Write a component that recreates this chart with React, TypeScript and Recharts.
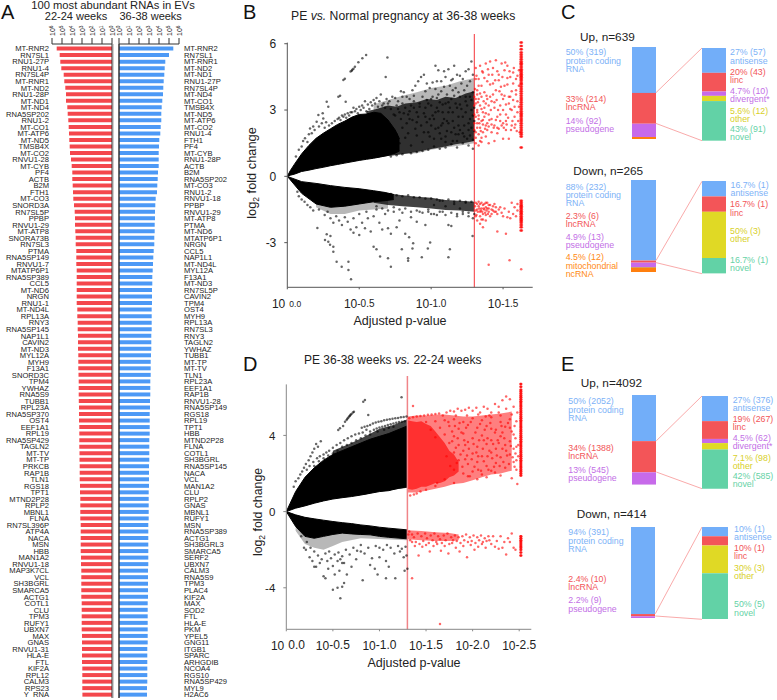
import React from 'react';
import { BarChart, Bar, XAxis, YAxis, ReferenceLine, ComposedChart, Area, Scatter } from 'recharts';

const FONT = '"Liberation Sans", Arial, sans-serif';

// ---------- Panel A ----------
const earlyGenes = ['MT-RNR2','RN7SL1','RNU1-27P','RNU1-4','RN7SL4P','MT-RNR1','MT-ND2','RNU1-28P','MT-ND1','MT-ND4','RNA5SP202','RNU1-2','MT-CO1','MT-ATP6','MT-ND5','TMSB4X','MT-CO2','RNVU1-28','MT-CYB','PF4','ACTB','B2M','FTH1','MT-CO3','SNORD3A','RN7SL5P','PPBP','RNVU1-29','MT-ATP8','SNORA73B','RN7SL3','PTMA','RNA5SP149','RNVU1-7','MTATP6P1','RNA5SP389','CCL5','MT-ND6','NRGN','RNU1-1','MT-ND4L','RPL13A','RNY3','RNA5SP145','NAP1L1','CAVIN2','MT-ND3','MYL12A','MYH9','F13A1','SNORD3C','TPM4','YWHAZ','RNA5S9','TUBB1','RPL23A','RNA5SP370','OST4','EEF1A1','RPL19','RNA5SP429','TAGLN2','MT-TV','MT-TP','PRKCB','RAP1B','TLN1','RGS18','TPT1','MTND2P28','RPLP2','MBNL1','FLNA','RN7SL396P','ATP4A','NACA','MSN','HBB','MAN1A2','RNVU1-18','MAP3K7CL','VCL','SH3BGRL','SMARCA5','ACTG1','COTL1','CLU','TPM3','RUFY1','UBXN7','MAX','GNAS','RNVU1-31','HLA-E','FTL','KIF2A','RPL12','CALM3','RPS23','Y_RNA'];
const earlyLog10 = [5.53,5.23,5.17,5.07,4.83,4.77,4.67,4.6,4.6,4.47,4.43,4.37,4.33,4.3,4.27,4.23,4.2,4.1,4.03,3.97,3.97,3.93,3.9,3.87,3.8,3.73,3.7,3.7,3.67,3.63,3.63,3.57,3.57,3.57,3.53,3.53,3.53,3.53,3.53,3.53,3.47,3.47,3.43,3.43,3.4,3.4,3.4,3.37,3.37,3.37,3.35,3.33,3.33,3.33,3.32,3.3,3.3,3.3,3.27,3.27,3.27,3.27,3.25,3.25,3.23,3.23,3.23,3.2,3.2,3.17,3.17,3.17,3.17,3.13,3.13,3.13,3.13,3.13,3.1,3.1,3.07,3.07,3.07,3.07,3.07,3.03,3.03,3.03,3.03,3.03,3,3,3,3,3,2.97,2.97,2.97,2.97,2.96];
const lateGenes = ['MT-RNR2','RN7SL1','MT-RNR1','MT-ND2','MT-ND1','RNU1-27P','RN7SL4P','MT-ND4','MT-CO1','TMSB4X','MT-ND5','MT-ATP6','MT-CO2','RNU1-4','FTH1','PF4','MT-CYB','RNU1-28P','ACTB','B2M','RNA5SP202','MT-CO3','RNU1-2','RNVU1-18','PPBP','RNVU1-29','MT-ATP8','PTMA','MT-ND6','MTATP6P1','NRGN','CCL5','NAP1L1','MT-ND4L','MYL12A','F13A1','MT-ND3','RN7SL5P','CAVIN2','TPM4','OST4','MYH9','RPL13A','RN7SL3','RNY3','TAGLN2','YWHAZ','TUBB1','MT-TP','MT-TV','TLN1','RPL23A','EEF1A1','RAP1B','RNVU1-28','RNA5SP149','RGS18','RPL19','TPT1','HBB','MTND2P28','FLNA','COTL1','SH3BGRL','RNA5SP145','NACA','VCL','MAN1A2','CLU','RPLP2','GNAS','MBNL1','RUFY1','MSN','RNA5SP389','ACTG1','SH3BGRL3','SMARCA5','SERF2','UBXN7','CALM3','RNA5S9','TPM3','PLAC4','KIF2A','MAX','SOD2','FTL','HLA-E','PKM','YPEL5','GNG11','ITGB1','SPARC','ARHGDIB','NCOA4','RGS10','RNA5SP429','MYL9','H2AC6'];
const lateLog10 = [5.43,5,4.63,4.57,4.53,4.47,4.43,4.4,4.33,4.27,4.23,4.23,4.17,4.13,4.03,4,3.97,3.97,3.97,3.9,3.87,3.83,3.8,3.67,3.63,3.6,3.6,3.57,3.57,3.53,3.53,3.47,3.43,3.4,3.37,3.33,3.33,3.3,3.3,3.3,3.27,3.27,3.27,3.27,3.23,3.23,3.23,3.2,3.17,3.17,3.17,3.13,3.13,3.13,3.1,3.1,3.07,3.07,3.07,3.07,3.03,3.03,3.03,3.03,3,3,3,3,2.97,2.97,2.97,2.97,2.97,2.93,2.93,2.93,2.93,2.93,2.93,2.93,2.9,2.9,2.9,2.9,2.9,2.87,2.87,2.87,2.87,2.87,2.87,2.87,2.83,2.83,2.83,2.83,2.83,2.83,2.8,2.8];
const abundanceTicks = [0,1,2,3,4,5,6];

// ---------- Panel B ----------
const bUpperCore = [[0,0,0],[.02,.05,.25],[.05,.1,.55],[.1,.22,1.02],[.15,.28,1.4],[.2,.35,1.72],[.25,.41,1.95],[.3,.48,2.15],[.35,.54,2.35],[.4,.6,2.5],[.45,.66,2.68],[.5,.72,2.8],[.55,.77,2.82],[.6,.82,2.9],[.65,.88,2.85],[.7,.95,2.55],[.75,1.05,2.1],[.78,1.15,1.7]];
const bUpperDark = [[.55,.78,2.95],[.62,.85,3.05],[.7,.92,3.2],[.76,.97,3.15],[.82,1.02,3.3],[.9,1.1,3.35],[.97,1.2,3.5],[1.04,1.28,3.45],[1.1,1.35,3.6],[1.17,1.45,3.55],[1.24,1.52,3.75],[1.3,1.6,3.85]];
const bUpperHaze = [[.6,.85,3.25],[.7,.92,3.45],[.8,1,3.65],[.9,1.05,3.8],[1,1.2,4],[1.1,1.3,4.1],[1.2,1.4,4.3],[1.3,1.5,4.45]];
const bLowerCore = [[0,0,0],[.02,-.05,-.15],[.1,-.24,-.77],[.2,-.32,-1.25],[.3,-.42,-1.4],[.4,-.5,-1.35],[.5,-.56,-1.25],[.6,-.65,-1.15],[.68,-.73,-1.1],[.74,-.82,-1.05]];
const bLowerDark = [[.6,-.66,-1.2],[.7,-.77,-1.3],[.8,-.85,-1.35],[.9,-.92,-1.4],[1,-.97,-1.45],[1.1,-1.07,-1.52],[1.2,-1.1,-1.55],[1.3,-1.15,-1.6]];
const bLowerHaze = [[.2,-.3,-1.4],[.3,-.4,-1.7],[.4,-.5,-1.7],[.5,-.56,-1.55],[.7,-.75,-1.45]];
const bBlack = [.548,5.49,.522,5.34,.494,5.16,.47,4.96,.46,4.87,.452,4.82,.448,4.78,.44,4.74,.40,4.42,.39,4.36,.367,3.65,.355,3.6,.406,3.38,.274,3.38,.285,3.15,.246,2.85,.216,2.78,.696,5.38,.684,4.49,.123,1.72,.158,2.17,.18,2.25,.204,2.47,.25,2.62,.06,.9,.08,1.2,.1,1.35,.11,1.6,.14,1.55,.15,1.9,.17,1.95,.19,2.1,.22,2.25,.24,2.4,.26,2.2,.27,2.45,.29,2.3,.31,2.4,.33,2.5,.35,2.6,.37,2.55,.39,2.7,.41,2.65,.43,2.75,.45,2.9,.47,2.95,.49,2.85,.51,3,.53,3.1,.55,2.95,.57,3.05,.59,3.2,.61,3.3,.63,3.15,.65,3.7,.67,3.3,.69,3.5,.71,3.4,.73,3.6,.75,3.55,.77,3.4,.79,3.85,.81,3.8,.83,3.6,.85,3.5,.87,3.9,.89,4.1,.91,4.3,.93,4.5,.95,4.6,.97,4.2,.99,4,1.01,4.25,1.03,5,1.05,4.8,1.07,4.3,1.09,4.75,1.12,4.85,1.14,4.35,1.16,5,1.18,4.6,1.2,4.55,1.22,4.4,1.24,4.75,1.26,4.85,1.28,5.2,1.29,4.6,1.27,4.3,1.25,4.1,1.23,3.9,1.21,4.2,1.19,3.8,1.17,4,1.15,3.9,1.13,4.1,1.11,3.7,1.09,4.05,1.07,3.85,1.05,3.7,1.03,3.95,1.01,3.6,.76,3.2,.78,2.9,.8,3.3,.82,3.1,.84,2.8,.86,3.2,.88,3.4,.9,2.9,.92,3.15,.94,3.6,.96,2.7,.98,3.3,1,3.5,1.02,2.6,1.04,3.1,1.06,3.35,1.08,2.4,1.1,3.3,1.12,2.9,1.14,3.5,1.16,2.2,1.18,3.1,1.2,3.6,1.22,2.7,1.24,3.4,1.26,2.1,1.28,3,1.29,3.8,.98,1.2,1.02,1.35,1.06,1.25,1.1,1.3,1.14,1.45,1.18,1.3,1.22,1.5,1.26,1.4,1.29,1.25,.86,1.05,.9,1.1,.94,1.15,.72,.9,.76,.95,.8,1,1.05,2.2,1.12,2.4,1.19,1.9,1.24,2.9,1.28,2.2,1.1,1.8,1.15,1.6,1.2,2.1,1.25,1.7,1,2.3,.95,2,.9,2.45,.85,2.6,.75,2.75,1.08,2.9,1.17,3.3,1.27,3.6,.96,3.85,.88,3.65,.8,3.6,1.15,4.4,1.1,4.5,1.04,4.3,.97,3.45,
.209,-2.34,.274,-2.62,.30,-2.7,.262,-2.88,.285,-2.96,.297,-3.1,.32,-3.41,.343,-3.86,.378,-4.09,.425,-3.86,.425,-4.24,.443,-4.66,.32,-3.18,.6,-3.18,.62,-3.3,.645,-3.63,.7,-3.71,.72,-4.09,.796,-3.3,.84,-3.71,.84,-3.82,.847,-2.76,.87,-3.26,.875,-3.03,.935,-3.66,.977,-3.26,.993,-2.99,1.12,-3.66,1.13,-3.3,1.288,-2.7,.08,-.9,.1,-1.05,.07,-.7,.12,-1.15,.14,-1.3,.16,-1.4,.18,-1.55,.22,-1.5,.26,-1.75,.28,-1.6,.3,-1.9,.32,-2.1,.34,-1.8,.36,-2,.38,-2.2,.4,-1.85,.42,-2.05,.44,-2.4,.46,-2.55,.48,-2.3,.5,-2.65,.52,-2.1,.54,-2.35,.56,-1.9,.58,-2.5,.6,-1.8,.64,-2.1,.68,-1.7,.7,-2.35,.74,-1.6,.72,-2.6,.76,-2.3,.78,-2,.8,-1.65,.82,-2.6,.86,-1.85,.9,-2.05,.92,-1.6,.96,-2.2,1,-1.7,1.04,-1.75,1.08,-1.6,1.12,-2.2,1.14,-2.25,1.18,-1.8,1.22,-1.7,1.26,-1.8,1.29,-1.9,.98,-1.5,1.02,-1.3,1.06,-1.1,1.1,-1.35,1.16,-1.25,1.2,-1.45,1.24,-1.2,.46,-1.9,.5,-1.7,.55,-1.6,.62,-1.5,.66,-2.4];
const bBlackStipple = [.72,3.05,.74,2.8,.77,3.05,.79,2.6,.81,2.85,.83,2.4,.85,2.95,.87,2.55,.89,2.15,.91,2.7,.93,2.3,.95,2.85,.97,2.45,.99,1.8,1.01,2.75,1.03,2.15,1.05,2.95,1.07,1.7,1.09,2.6,1.11,2.05,1.13,3.1,1.15,2.5,1.17,1.9,1.19,2.7,1.21,3.05,1.23,2.3,1.25,3.2,1.27,1.85,1.29,2.75,.74,1.3,.78,1.5,.82,1.75,.86,1.4,.9,1.85,.94,1.55,.98,2,1.02,1.7,1.06,1.95,1.1,1.55,1.14,2,1.18,1.6,1.22,1.95,1.26,2.4,1.3,2.05,.76,1.9,.8,2.2,.84,1.95,.88,3.1,.92,3.3,.96,3.1,1,3.2,1.04,3.55,1.08,3.25,1.12,3.35,1.16,3.65,1.2,3.25,1.24,3.6,1.28,3.45,1.3,3.1,1.3,2.5,1.29,1.65,1.27,2.6,1.23,1.8,1.19,2.3,1.15,2.9,1.11,2.5,1.07,2.3,1.03,2.9,.99,2.6,.7,3.3,.68,3.1,.66,3.2,.64,3.4,.62,3.55,.6,3.45,.58,3.35,.56,3.25,.54,3.4,.52,3.2,.5,3.15,.48,3.05,.46,3.1,.44,2.9,.42,2.85,.4,2.8,.38,2.75,.36,2.65,
.62,-1.35,.66,-1.45,.7,-1.55,.74,-1.4,.78,-1.5,.82,-1.45,.86,-1.6,.9,-1.55,.94,-1.65,.98,-1.6,1.02,-1.7,1.06,-1.6,1.1,-1.75,1.14,-1.65,1.18,-1.7,1.22,-1.6,1.26,-1.65,1.3,-1.7,.72,-.8,.76,-.85,.8,-.9,.84,-.85,.88,-.95,.92,-.95,.96,-1,1,-1,1.04,-1.05,1.08,-1.1,1.12,-1.05,1.16,-1.15,1.2,-1.1,1.24,-1.15,1.28,-1.15];
const bRed = [1.31,4.9,1.33,4.4,1.32,3.9,1.34,5,1.36,4.7,1.38,5.1,1.4,4.6,1.41,5.2,1.43,4.9,1.45,5.25,1.47,4.6,1.49,5.1,1.51,4.8,1.53,5,1.55,4.5,1.57,4.7,1.59,4.4,1.31,4.4,1.33,3.5,1.35,4.1,1.37,3.8,1.39,4.3,1.41,3.6,1.43,4.2,1.45,3.9,1.47,4.35,1.49,3.7,1.51,4.1,1.53,4.45,1.55,3.6,1.57,4.2,1.59,3.9,1.6,3.4,1.31,3.3,1.32,3,1.34,3.2,1.36,2.9,1.38,3.3,1.4,2.8,1.42,3.4,1.44,3.1,1.46,2.7,1.48,3.2,1.5,3.5,1.52,2.8,1.54,3.3,1.56,3,1.58,2.7,1.6,2.9,1.31,2.7,1.32,2.4,1.33,2.6,1.34,2.2,1.35,2.5,1.36,2.35,1.37,2.7,1.38,2.3,1.39,2.4,1.4,2.25,1.42,2.6,1.44,2.3,1.46,2.2,1.48,2.5,1.5,2.4,1.52,2.1,1.54,1.7,1.56,2.3,1.58,2.2,1.31,2,1.32,2.2,1.33,1.9,1.34,1.6,1.35,1.75,1.36,2,1.38,1.8,1.4,1.5,1.42,2,1.44,1.6,1.46,1.95,1.5,1.7,1.52,2.5,1.31,1.5,1.33,1.4,1.35,1.55,1.32,3.7,1.35,3.6,1.37,3.1,1.39,3.5,1.31,3.5,1.33,4.1,1.31,1.75,1.3,2.4,1.3,2.1,1.3,2.8,1.3,3.2,1.3,3.6,
1.31,-1.2,1.32,-1.5,1.33,-1.35,1.34,-1.6,1.34,-1.25,1.35,-1.45,1.36,-1.7,1.36,-1.3,1.37,-1.5,1.38,-1.75,1.38,-1.2,1.39,-1.45,1.4,-1.6,1.4,-1.3,1.41,-1.8,1.42,-1.5,1.43,-1.35,1.44,-1.6,1.45,-1.4,1.46,-1.7,1.32,-2,1.34,-2.15,1.36,-2.3,1.38,-2,1.35,-1.95,1.31,-1.8,1.46,-2.5,1.52,-2.6,1.48,-1.4,1.5,-1.8,1.54,-1.6,1.56,-1.2,1.55,-1.9,1.58,-1.4,1.59,-1.8,1.4,-4,1.545,-3.8,1.626,-4.2];
const bRedMore = [1.305,3.95,1.315,4.55,1.32,2.9,1.325,3.35,1.33,2.75,1.335,2.4,1.34,3.75,1.345,2.05,1.35,3.05,1.355,4.75,1.36,2.55,1.365,3.4,1.37,4.45,1.375,2.15,1.38,2.85,1.385,3.65,1.39,2.1,1.395,4.85,1.4,3.2,1.405,2.55,1.41,4.15,1.415,3,1.42,2.35,1.425,4.6,1.43,3.7,1.435,2.2,1.44,3.35,1.445,4.35,1.45,2.55,1.455,3.45,1.46,4.75,1.465,3,1.47,2.15,1.475,3.85,1.48,2.8,1.485,4.05,1.49,2.3,1.495,4.5,1.5,3,1.505,2.2,1.51,3.65,1.515,5.15,1.52,3.25,1.525,2.35,1.53,4.15,1.535,2.65,1.54,3.6,1.545,4.75,1.55,3.05,1.555,2.1,1.56,3.85,1.565,2.5,1.57,3.45,1.575,4.9,1.58,3.15,1.585,2.35,1.59,3.7,1.595,2.05,1.6,4.55,1.605,2.5,1.61,3.15,1.61,4.1,1.61,4.8,1.615,2,
1.305,-1.35,1.31,-1.55,1.315,-1.75,1.32,-1.25,1.325,-1.6,1.33,-1.15,1.335,-1.45,1.34,-1.8,1.345,-1.55,1.35,-1.2,1.355,-1.6,1.36,-1.95,1.365,-1.45,1.37,-1.25,1.375,-1.65,1.38,-1.4,1.385,-1.55,1.39,-1.2,1.395,-1.7,1.4,-1.45,1.41,-1.3,1.42,-1.7,1.43,-1.55,1.44,-1.25,1.45,-1.6,1.47,-1.5,1.49,-1.65,1.51,-1.45,1.53,-1.85,1.57,-1.7,1.6,-1.55,1.6,-1.25];
const bRedColumnX = [1.621,1.626,1.631];
const bRedColumnY = [6.05,5.9,5.75,5.6,5.5,5.4,5.3,5.2,5.12,5.05,4.95,4.85,4.78,4.7,4.62,4.55,4.48,4.4,4.32,4.22,4.15,4.05,3.95,3.85,3.75,3.65,3.55,3.45,3.35,3.25,3.15,3.05,2.95,2.85,2.78,2.7,2.6,2.5,2.4,2.3,2.2,2.1,2,1.9,1.8,1.3,-1.1,-1.2,-1.28,-1.35,-1.42,-1.5,-1.58,-1.65,-1.72,-1.8,-1.88,-1.95,-2.02,-2.1,-2.2,-2.3,-2.45];

// ---------- Panel D ----------
const dUpperCore = [[0,0,0],[.1,.18,1.05],[.2,.3,1.8],[.3,.44,2.3],[.4,.56,2.7],[.5,.66,3],[.6,.73,3.2],[.7,.79,3.4],[.8,.87,3.6],[.9,.96,3.8],[1,1.05,3.95],[1.1,1.1,4.1],[1.2,1.22,4.3],[1.3,1.3,4.5]];
const dUpperHaze = [[.5,.68,3.2],[.7,.8,3.6],[.85,.9,3.95],[1,1.05,4.35],[1.15,1.15,4.55],[1.3,1.25,4.85]];
const dLowerCore = [[0,0,0],[.1,-.17,-.78],[.2,-.3,-1.3],[.3,-.38,-1.4],[.4,-.45,-1.3],[.5,-.52,-1.2],[.6,-.58,-1.13],[.7,-.63,-1.17],[.8,-.7,-1.2],[.9,-.75,-1.22],[1,-.82,-1.3],[1.1,-.87,-1.35],[1.3,-.96,-1.43]];
const dLowerHaze = [[.1,-.3,-1],[.2,-.5,-1.7],[.3,-.6,-1.9],[.4,-.7,-2],[.5,-.7,-1.8],[.6,-.8,-1.6],[.8,-.9,-1.4],[1.3,-1,-1.5]];
const dRedCore = [[1.3,1.2,4.8],[1.35,1.15,4.75],[1.4,1.2,4.7],[1.45,1.3,4.75],[1.5,1.3,4.6],[1.55,1.4,4.5],[1.6,1.5,4.2],[1.65,1.5,3.9],[1.7,1.6,3.6],[1.75,1.8,3.2],[1.8,1.9,3],[1.85,2.1,2.6]];
const dRedHaze = [[1.3,1,5],[1.4,1,5.05],[1.5,1.1,5.05],[1.6,1.2,5.1],[1.7,1.3,5.1],[1.8,1.45,5.05],[1.9,1.5,5],[2,1.65,5],[2.1,1.8,5.05],[2.2,1.95,5.1],[2.3,2,5.15],[2.42,2.15,5.25]];
const dRedLowerHaze = [[1.3,-.98,-1.45],[1.45,-1.02,-1.5],[1.6,-1.08,-1.55],[1.75,-1.12,-1.55],[1.85,-1.2,-1.5]];
const dBlack = [.844,5.86,.826,5.77,1.237,6,.647,4.81,.665,4.93,.683,5.03,.70,5.12,.726,5.24,.63,4.72,.655,4.87,.675,5,.69,5.08,.715,5.2,.576,4.37,.558,4.28,.61,4.49,.88,5.07,.81,4.4,.84,4.45,.87,4.5,.9,4.55,.93,4.62,.96,4.68,.99,4.72,1.02,4.75,1.05,4.8,1.08,4.82,1.11,4.85,1.14,4.88,1.17,4.9,1.2,4.92,1.23,4.95,1.26,4.97,1.29,4.99,.9,4.2,.94,4.3,.97,4.36,1,4.42,1.03,4.46,1.06,4.5,1.09,4.55,1.12,4.58,1.15,4.62,1.18,4.66,1.21,4.7,1.24,4.72,1.27,4.75,.08,1.3,.1,1.6,.13,1.75,.15,1.95,.17,2.1,.19,2.3,.21,2.5,.24,2.7,.26,2.9,.28,3.1,.3,3.3,.32,3.55,.34,3.4,.37,3.7,.22,2.2,.25,2.4,.29,2.6,.33,2.8,.36,2.9,.4,3,.43,3.1,.46,3.2,.5,3.35,.54,3.5,.58,3.6,.62,3.75,.66,3.85,.7,3.95,.74,4.05,.78,4.1,.82,4.15,.86,4.3,.3,2.4,.35,2.65,.4,2.8,.45,2.95,.5,3.05,.55,3.2,.6,3.4,.65,3.5,.7,3.6,.75,3.75,.8,3.85,.85,4,.9,4.05,.98,4.2,1.05,4.3,1.1,4.4,1.15,4.45,
.16,-1.3,.19,-1.9,.21,-2,.25,-2.4,.28,-2.6,.3,-2.9,.32,-2.9,.36,-2.7,.4,-3.4,.42,-3.5,.44,-2.6,.5,-4.1,.55,-4,.58,-4.55,.6,-3.95,.62,-3.75,.5,-2.85,.52,-3.3,.57,-3.1,.6,-2.7,.65,-3.3,.7,-2.9,.75,-2.5,.8,-2.1,.82,-3.6,.9,-2.8,.95,-3,.98,-3.3,1,-2.4,1.07,-3.5,1.07,-2.6,1.1,-2.9,1.17,-3.5,1.22,-2.1,1.26,-2.4,1.27,-3.1,1.29,-2.3,1.3,-3,.22,-1.6,.26,-1.9,.3,-2.1,.34,-2.3,.38,-2.5,.42,-2.2,.46,-2.1,.48,-2.45,.52,-2.25,.56,-2.15,.6,-2.35,.64,-2,.68,-2.25,.72,-1.9,.76,-2.05,.8,-1.75,.84,-2.2,.88,-1.9,.92,-2.45,.96,-1.8,1,-1.9,1.04,-2,1.08,-1.75,1.12,-1.9,1.16,-2.2,1.2,-1.8,1.24,-1.95,1.28,-1.85,.55,-2.6,.58,-2.5,.62,-2.7,.45,-3];
const dRed = [1.36,5.55,1.65,-5.9,1.32,4.9,1.36,4.95,1.4,5,1.44,5.02,1.48,5.05,1.52,5.08,1.56,5.1,1.6,5.12,1.64,5.15,1.68,5.05,1.72,5.2,1.76,5.3,1.8,5.25,1.84,5.4,1.88,5.3,1.92,5.35,1.96,5.45,2,5.3,2.04,5.45,2.08,5.2,2.12,5.5,2.16,5.4,2.2,5.2,2.24,5.65,2.28,5.5,2.32,5.85,2.36,6.05,2.4,5.9,2.44,5.5,2.28,5.2,2.36,5.4,2.42,5.1,1.5,4.7,1.6,4.75,1.7,4.8,1.8,4.85,1.9,4.7,2,4.9,2.1,4.8,2.2,4.95,2.3,4.7,2.4,4.85,2.45,4.5,1.55,4.3,1.65,4.4,1.75,4.5,1.85,4.35,1.95,4.55,2.05,4.4,2.15,4.5,2.25,4.3,2.35,4.45,2.42,4.2,1.6,3.9,1.7,4.05,1.8,3.95,1.9,4.1,2,3.85,2.1,4,2.2,3.75,2.3,3.95,2.4,3.7,2.46,3.85,1.75,3.6,1.85,3.5,1.95,3.65,2.05,3.4,2.15,3.55,2.25,3.3,2.35,3.5,2.44,3.3,1.8,3.1,1.9,3.2,2,3.05,2.1,2.9,2.2,3.1,2.3,2.85,2.4,3,2.47,2.7,1.85,2.7,1.95,2.5,2.05,2.6,2.15,2.4,2.25,2.55,2.35,2.3,2.45,2.35,1.8,2.2,1.9,2,2,2.1,2.1,1.95,2.2,2.15,2.3,1.9,2.42,1.75,2.48,1.45,1.7,1.7,1.8,1.5,1.6,1.35,1.5,1.15,1.4,.95,1.33,.85,1.37,.9,1.44,1.05,1.62,1.5,1.95,1.85,2.05,1.7,2.15,1.8,
1.32,-1.05,1.35,-1.6,1.38,-1.8,1.42,-2.3,1.46,-1.85,1.5,-1.75,1.54,-2.1,1.58,-1.8,1.62,-1.7,1.66,-2.05,1.7,-1.8,1.74,-2.2,1.78,-1.65,1.82,-1.9,1.86,-2.1,1.9,-1.8,1.94,-2.4,1.98,-1.75,2.02,-2,2.06,-1.85,2.1,-1.7,2.14,-1.9,2.18,-1.5,2.22,-1.3,2.26,-1.55,2.3,-1.3,2.34,-1.6,2.38,-1.4,2.42,-1.15,2.36,-2.25,2.44,-1.9,2.28,-1.95,1.35,-3.5];
const dRedMore = [1.72,2.9,1.76,2.4,1.78,4.2,1.82,3.35,1.83,2.55,1.86,4.65,1.87,3,1.89,2.35,1.91,3.75,1.92,2.75,1.93,4.4,1.96,3.3,1.97,1.85,1.98,4.7,2.01,3.55,2.02,2.35,2.03,4.15,2.06,2.9,2.07,3.75,2.08,4.6,2.09,2.15,2.11,3.3,2.12,2.65,2.13,4.3,2.14,5,2.16,3.85,2.17,2.2,2.18,3.2,2.19,4.65,2.21,2.8,2.22,3.55,2.23,2.35,2.24,4.15,2.26,2.95,2.27,3.75,2.29,2.4,2.31,4.5,2.32,3.3,2.33,2.6,2.34,3.85,2.37,2.95,2.38,4.65,2.39,2.5,2.41,3.45,2.43,2.85,2.44,4.05,2.46,3.05,2.47,2.2,2.47,4.75,2.49,3.5,2.49,2.9,1.74,4.7,1.78,3.7,1.81,4.5,1.84,3.85,1.88,4.15,1.92,3.5,1.94,2.95,1.99,2.75,2.04,3.1,2.06,2.2,2.12,3.75,2.16,2.9,2.2,4.35,2.24,2.05,2.28,3.6,2.32,4.15,2.36,3.2,2.4,4.4,2.44,2.6,2.47,3.4,2.48,5.2,2.3,5.05,2.18,5.05,2.06,5.1,1.94,5.05,1.82,5.05,
1.31,-1.2,1.33,-1.5,1.35,-1.2,1.37,-1.35,1.39,-1.6,1.41,-1.15,1.43,-1.7,1.45,-1.3,1.47,-1.55,1.49,-1.15,1.51,-1.4,1.53,-1.65,1.55,-1.25,1.57,-1.5,1.59,-1.15,1.61,-1.6,1.63,-1.3,1.65,-1.45,1.67,-1.65,1.69,-1.25,1.71,-1.5,1.73,-1.15,1.75,-1.7,1.77,-1.35,1.79,-1.5,1.81,-1.25,1.83,-1.55,1.85,-1.35,1.87,-1.65,1.89,-1.3,1.91,-1.5,1.93,-1.2,1.95,-1.6,1.97,-1.35,1.99,-1.55,2.01,-1.25,2.03,-1.65,2.05,-1.35,2.07,-1.5,2.09,-1.25,2.11,-1.6,2.13,-1.4,2.15,-1.55,2.17,-1.3,2.2,-1.7,2.24,-1.85,2.32,-1.9,2.4,-1.6,2.46,-2];
const dRedColumnX = [2.513,2.518,2.523];
const dRedColumnY = [6.7,6.55,6.4,6.3,6.2,6.1,6,5.9,5.8,5.7,5.6,5.5,5.4,5.3,5.2,5.1,5,4.9,4.8,4.7,4.6,4.5,4.4,4.3,4.2,4.1,4,3.9,3.8,3.7,3.6,3.5,3.4,3.3,3.2,3.1,3,2.9,2.8,2.7,2.6,2.5,2.4,2.3,2.2,2.1,2,1.9,-1.3,-1.4,-1.5,-1.6,-1.7,-1.8,-1.9,-2,-2.15,-2.3];

// ---------- Panels C and E ----------
const BLUE = '#72aef9', RED = '#f35558', PURPLE = '#c76aea', ORANGE = '#ff7f0e', YELLOW = '#e0d925', GREEN = '#62d2a6', OLIVE = '#b9893a', PALE = '#d9a8e8';
const cUpMain = [319,214,92,14];
const cUpMainColors = [BLUE,RED,PURPLE,ORANGE];
const cUpSub = [57,43,10,12,91];
const cUpSubColors = [BLUE,RED,PURPLE,YELLOW,GREEN];
const cDownMain = [232,6,13,2,12];
const cDownMainColors = [BLUE,RED,PURPLE,OLIVE,ORANGE];
const cDownSub = [1,1,3,1];
const cDownSubColors = [BLUE,RED,YELLOW,GREEN];
const eUpMain = [2052,1388,545,20];
const eUpMainColors = [BLUE,RED,PURPLE,PALE];
const eUpSub = [376,267,62,98,585];
const eUpSubColors = [BLUE,RED,PURPLE,YELLOW,GREEN];
const eDownMain = [391,10,9];
const eDownMainColors = [BLUE,RED,PURPLE];
const eDownSub = [1,1,3,5];
const eDownSubColors = [BLUE,RED,YELLOW,GREEN];

const TB = '#7db2f7', TR = '#f25558', TP = '#c36fe6', TO = '#ff8a14', TY = '#d8d02a', TG = '#66d2a6';
type L = [number, number, string, string];
const stackLabels: L[] = [
  [565.7,55,'50% (319)',TB],[565.7,63.5,'protein coding',TB],[565.7,72,'RNA',TB],[565.7,101.7,'33% (214)',TR],[565.7,110,'lncRNA',TR],[565.7,124,'14% (92)',TP],[565.7,132.3,'pseudogene',TP],
  [730,55.3,'27% (57)',TB],[730,63.7,'antisense',TB],[730,74.7,'20% (43)',TR],[730,83,'linc',TR],[730,94.3,'4.7% (10)',TP],[730,102.3,'divergent*',TP],[730,114,'5.6% (12)',TY],[730,121.7,'other',TY],[730,132,'43% (91)',TG],[730,139.7,'novel',TG],
  [565.7,189.7,'88% (232)',TB],[565.7,198,'protein coding',TB],[565.7,206,'RNA',TB],[565.7,218.7,'2.3% (6)',TR],[565.7,227,'lncRNA',TR],[565.7,240.3,'4.9% (13)',TP],[565.7,248.3,'pseudogene',TP],[565.7,260.3,'4.5% (12)',TO],[565.7,268.7,'mitochondrial',TO],[565.7,277,'ncRNA',TO],
  [730.5,187.7,'16.7% (1)',TB],[730.5,196.3,'antisense',TB],[730,207.3,'16.7%  (1)',TR],[730,215.7,'linc',TR],[730,234,'50% (3)',TY],[730,242.3,'other',TY],[730,262.7,'16.7% (1)',TG],[730,271,'novel',TG],
  [568.3,404.3,'50% (2052)',TB],[568.3,412.7,'protein coding',TB],[568.3,421,'RNA',TB],[568.3,450.7,'34% (1388)',TR],[568.3,458.7,'lncRNA',TR],[568.3,472.7,'13% (545)',TP],[568.3,481,'pseudogene',TP],
  [732.7,402.7,'27% (376)',TB],[732.7,410.7,'antisense',TB],[732.7,422,'19% (267)',TR],[732.7,430,'linc',TR],[732.7,440.7,'4.5% (62)',TP],[732.7,449,'divergent*',TP],[732.7,460.7,'7.1% (98)',TY],[732.7,468.7,'other',TY],[732.7,478.7,'42% (585)',TG],[732.7,486.7,'novel',TG],
  [568.3,535.3,'94% (391)',TB],[568.3,543.7,'protein coding',TB],[568.3,551.7,'RNA',TB],[568.3,581.7,'2.4% (10)',TR],[568.3,590,'lncRNA',TR],[568.3,603.3,'2.2% (9)',TP],[568.3,611.7,'pseudogene',TP],
  [734,532,'10% (1)',TB],[734,540,'antisense',TB],[734,551.3,'10% (1)',TR],[734,559.3,'linc',TR],[734,570.7,'30% (3)',TY],[734,578.7,'other',TY],[734,607.3,'50% (5)',TG],[734,615.7,'novel',TG],
];
const stackTitles: [number, number, string][] = [[580,40.7,'Up, n=639'],[573.3,175,'Down, n=265'],[580.7,386.7,'Up, n=4092'],[576.7,518.3,'Down, n=414']];
const panelLetters: [number, number, string][] = [[1,19,'A'],[243,19,'B'],[561,19,'C'],[243,371,'D'],[561,371,'E']];

// ---------- helpers ----------
const pairs = (flat: number[]) => {
  const out: { x: number; y: number }[] = [];
  for (let i = 0; i < flat.length; i += 2) out.push({ x: flat[i], y: flat[i + 1] });
  return out;
};
const columns = (xs: number[], ys: number[]) => xs.flatMap((x) => ys.map((y) => ({ x, y })));
const band = (rows: number[][]) => rows.map(([x, lo, hi]) => ({ x, r: [lo, hi] }));
const dot = (fill: string, op: number) => (p: any) => <circle cx={p.cx} cy={p.cy} r={1.25} fill={fill} fillOpacity={op} />;

const box = (left: number, top: number, width: number, height: number): React.CSSProperties => ({ position: 'absolute', left, top, width, height });

const AbundanceTick = (p: any) => (
  <text transform={`rotate(-90 ${p.x + 2.5} 36)`} x={p.x + 2.5} y={36} fontSize={7} fontFamily={FONT} fill="#222">
    10<tspan dy={-2} fontSize={4.8}>{p.payload.value}</tspan>
  </text>
);

function Abundance({ genes, values, color, left, width, side }: any) {
  const data = genes.map((g: string, i: number) => ({ g, v: values[i] }));
  const red = side === 'left';
  return (
    <div style={box(left, 0, width, 700)}>
      <BarChart layout="vertical" width={width} height={698} data={data} margin={{ top: 0, right: red ? 6 : 0, bottom: 0, left: red ? 0 : 6 }} barCategoryGap="18%">
        <XAxis type="number" orientation="top" height={44} domain={[0, 6]} ticks={abundanceTicks} reversed={red} stroke="#333" tickSize={6} tick={AbundanceTick} interval={0} />
        <YAxis type="category" dataKey="g" orientation={side} width={red ? 52 : width - 66} interval={0} axisLine={false} tickLine={false} tickSize={0} tickMargin={red ? 3 : 5} padding={{ top: 1.4, bottom: 0 }} tick={{ fontSize: 7.6, fill: '#222', fontFamily: FONT }} />
        <Bar dataKey="v" fill={color} isAnimationActive={false} />
        <ReferenceLine x={red ? -0.12 : 0} ifOverflow="visible" stroke={red ? '#bbb' : '#333'} strokeWidth={1} />
        <ReferenceLine x={0} stroke="#333" strokeWidth={1} />
      </BarChart>
    </div>
  );
}

const pTick = (zeroSize: number, expSize: number, baseline: number) => (p: any) => {
  const v: number = p.payload.value;
  if (v === 0) {
    return (
      <g fontFamily={FONT} fill="#222">
        <text x={p.x - 2} y={baseline} textAnchor="end" fontSize={12}>10</text>
        <text x={p.x + 2} y={baseline - 1.5} fontSize={zeroSize}>0.0</text>
      </g>
    );
  }
  return (
    <text x={p.x} y={baseline} textAnchor="middle" fontFamily={FONT} fill="#222" fontSize={12}>
      10<tspan dy={-1.5} fontSize={expSize}>{`-${v.toFixed(1)}`}</tspan>
    </text>
  );
};

const bandArea = (d: number[][], key: string, fill: string, op: number, edge = false) => (
  <Area key={key} data={band(d)} dataKey="r" stroke={edge ? fill : 'none'} strokeWidth={1} fill={fill} fillOpacity={op} isAnimationActive={false} dot={false} activeDot={false} />
);

function Volcano(props: any) {
  const { left, top, width, height, yw, xh, mt, mr, xDomain, yDomain, xTicks, yTicks, cut, axisTop, axisColor, cutColor, cutWidth, baseline, zeroSize, expSize, yFont,
    black, blackCore, blackDark, blackHaze, red, redCore, redHaze } = props;
  return (
    <div style={box(left, top, width, height)}>
      <ComposedChart width={width} height={height} margin={{ top: mt, right: mr, bottom: 0, left: 0 }}>
        <XAxis type="number" dataKey="x" domain={xDomain} ticks={xTicks} height={xh} stroke={axisColor} tickSize={2} allowDataOverflow tick={pTick(zeroSize, expSize, baseline)} interval={0} />
        <YAxis type="number" domain={yDomain} ticks={yTicks} width={yw} axisLine={false} tickSize={3} tickMargin={8} stroke={axisColor} allowDataOverflow tick={{ fontSize: yFont, fill: '#222', fontFamily: FONT }} interval={0} />
        {blackHaze.map((d: number[][], i: number) => bandArea(d, 'h' + i, '#000', 0.28))}
        {blackDark.map((d: number[][], i: number) => bandArea(d, 'd' + i, '#000', 0.74))}
        {blackCore.map((d: number[][], i: number) => bandArea(d, 'c' + i, '#000', 1, true))}
        {redHaze.map((d: number[][], i: number) => bandArea(d, 'rh' + i, '#ff0000', 0.5))}
        {redCore.map((d: number[][], i: number) => bandArea(d, 'rc' + i, '#ff0000', 0.62))}
        <Scatter data={black} dataKey="y" shape={dot('#000', 0.6)} isAnimationActive={false} />
        <Scatter data={red} dataKey="y" shape={dot('#ff0000', 0.6)} isAnimationActive={false} />
        <ReferenceLine segment={[{ x: 0, y: yDomain[0] }, { x: 0, y: axisTop }]} stroke={axisColor} strokeWidth={1} />
        <ReferenceLine x={cut} stroke={cutColor} strokeWidth={cutWidth} />
      </ComposedChart>
    </div>
  );
}

function Column({ left, top, width, height, values, colors }: any) {
  const total = values.reduce((a: number, b: number) => a + b, 0);
  const row: any = { c: '' };
  values.forEach((v: number, i: number) => { row['s' + i] = v; });
  return (
    <div style={box(left, top, width, height)}>
      <BarChart width={width} height={height} data={[row]} margin={{ top: 0, right: 0, bottom: 0, left: 0 }} barCategoryGap={0}>
        <XAxis dataKey="c" hide />
        <YAxis hide reversed domain={[0, total]} />
        {values.map((_: number, i: number) => <Bar key={i} dataKey={'s' + i} stackId="a" fill={colors[i]} isAnimationActive={false} />)}
      </BarChart>
    </div>
  );
}

function Stack({ main, mainColors, sub, subColors, mx, mw, my, mh, sx, sw, sy, sh }: any) {
  const total = main.reduce((a: number, b: number) => a + b, 0);
  const y1 = my + (main[0] / total) * mh;
  const y2 = my + ((main[0] + main[1]) / total) * mh;
  return (
    <>
      <Column left={mx} top={my} width={mw} height={mh} values={main} colors={mainColors} />
      <Column left={sx} top={sy} width={sw} height={sh} values={sub} colors={subColors} />
      <svg style={box(0, 0, 777, 700)} width={777} height={700}>
        <line x1={mx + mw} y1={y1} x2={sx} y2={sy} stroke="#f8a0a0" strokeWidth={0.9} />
        <line x1={mx + mw} y1={y2} x2={sx} y2={sy + sh} stroke="#f8a0a0" strokeWidth={0.9} />
      </svg>
    </>
  );
}

export default function App() {
  return (
    <div style={{ position: 'absolute', left: 0, top: 0, width: 777, height: 700, background: '#fff', overflow: 'hidden', fontFamily: FONT }}>
      <Abundance genes={earlyGenes} values={earlyLog10} color="#f4474c" left={0} width={118} side="left" />
      <Abundance genes={lateGenes} values={lateLog10} color="#4c99f6" left={113} width={126} side="right" />

      <Volcano left={230} top={0} width={310} height={340} yw={57.3} xh={52.7} mt={34} mr={7.3}
        xDomain={[0, 1.706]} yDomain={[-5.02, 6.44]} xTicks={[0, .5, 1, 1.5]} yTicks={[-3, 0, 3, 6]} cut={1.3} axisTop={6.05}
        axisColor="#555" cutColor="#f5343a" cutWidth={1} baseline={308} zeroSize={8.5} expSize={10} yFont={12}
        blackCore={[bUpperCore, bLowerCore]} blackDark={[bUpperDark, bLowerDark]} blackHaze={[bUpperHaze, bLowerHaze]} redCore={[]} redHaze={[]}
        black={[...pairs(bBlack), ...pairs(bBlackStipple)]} red={[...pairs(bRed), ...pairs(bRedMore), ...columns(bRedColumnX, bRedColumnY)]} />

      <Volcano left={230} top={340} width={310} height={360} yw={56.3} xh={70.7} mt={36} mr={8.7}
        xDomain={[0, 2.63]} yDomain={[-6.18, 7.12]} xTicks={[0, .5, 1, 1.5, 2, 2.5]} yTicks={[-4, 0, 4]} cut={1.3} axisTop={6.68}
        axisColor="#888" cutColor="#f08488" cutWidth={1.5} baseline={310} zeroSize={12} expSize={12} yFont={11.5}
        blackCore={[dUpperCore, dLowerCore]} blackDark={[dUpperHaze]} blackHaze={[dLowerHaze]} redCore={[dRedCore]} redHaze={[dRedHaze, dRedLowerHaze]}
        black={pairs(dBlack)} red={[...pairs(dRed), ...pairs(dRedMore), ...columns(dRedColumnX, dRedColumnY)]} />

      <Stack main={cUpMain} mainColors={cUpMainColors} sub={cUpSub} subColors={cUpSubColors} mx={631.7} mw={24.3} my={46.7} mh={92} sx={702} sw={23.7} sy={48} sh={92.7} />
      <Stack main={cDownMain} mainColors={cDownMainColors} sub={cDownSub} subColors={cDownSubColors} mx={630.7} mw={25.3} my={180} mh={92} sx={702} sw={23.7} sy={181.3} sh={92.4} />
      <Stack main={eUpMain} mainColors={eUpMainColors} sub={eUpSub} subColors={eUpSubColors} mx={631.7} mw={24.6} my={394.7} mh={90} sx={702} sw={25.7} sy={396} sh={92.7} />
      <Stack main={eDownMain} mainColors={eDownMainColors} sub={eDownSub} subColors={eDownSubColors} mx={630.7} mw={24.6} my={526.7} mh={91.3} sx={702} sw={25.7} sy={527} sh={92.3} />

      <svg style={box(0, 0, 777, 700)} width={777} height={700} fontFamily={FONT}>
        <text x={113} y={8.5} textAnchor="middle" fontSize={11.2} fill="#222">100 most abundant RNAs in EVs</text>
        <text x={76} y={19.5} textAnchor="middle" fontSize={11} fill="#222">22-24 weeks</text>
        <text x={150.7} y={19.5} textAnchor="middle" fontSize={11} fill="#222">36-38 weeks</text>
        <text x={291} y={19.5} fontSize={12.2} fill="#222">PE <tspan fontStyle="italic">vs.</tspan> Normal pregnancy at 36-38 weeks</text>
        <text x={304} y={364} fontSize={12} fill="#222">PE 36-38 weeks <tspan fontStyle="italic">vs.</tspan> 22-24 weeks</text>
        <text x={400} y={325} textAnchor="middle" fontSize={12.5} fill="#222">Adjusted p-value</text>
        <text x={414} y={667} textAnchor="middle" fontSize={12.5} fill="#222">Adjusted p-value</text>
        <text transform="rotate(-90 256 173)" x={256} y={173} textAnchor="middle" fontSize={12.8} fill="#222">log<tspan dy={3} fontSize={8.5}>2</tspan><tspan dy={-3}> fold change</tspan></text>
        <text transform="rotate(-90 262 512)" x={262} y={512} textAnchor="middle" fontSize={12.3} fill="#222">log<tspan dy={3} fontSize={8.5}>2</tspan><tspan dy={-3}> fold change</tspan></text>
        {stackTitles.map(([x, y, t]) => <text key={t} x={x} y={y} fontSize={11.8} fill="#222">{t}</text>)}
        {stackLabels.map(([x, y, t, c], i) => <text key={i} x={x} y={y} fontSize={8.8} fill={c}>{t}</text>)}
        {panelLetters.map(([x, y, t]) => <text key={t} x={x} y={y} fontSize={20} fill="#111">{t}</text>)}
      </svg>
    </div>
  );
}
